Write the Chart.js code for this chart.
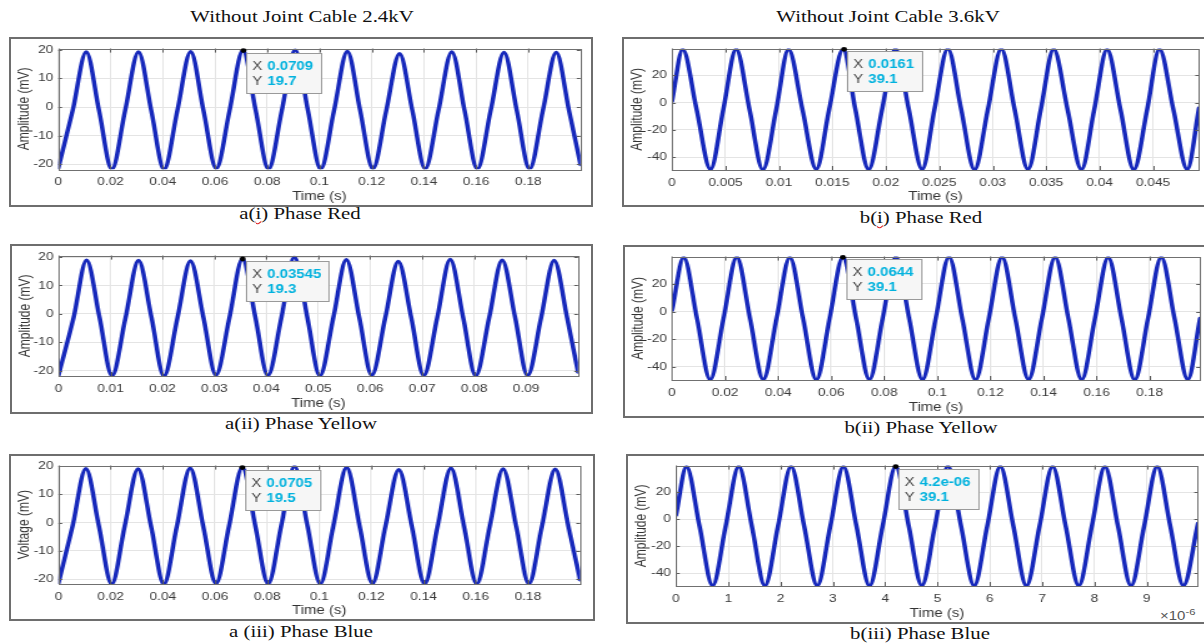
<!DOCTYPE html>
<html>
<head>
<meta charset="utf-8">
<script src="https://cdn.jsdelivr.net/npm/chart.js@4.4.1/dist/chart.umd.min.js"></script>
<style>
  body { margin: 0; width: 1204px; height: 643px; overflow: hidden; background: #fff; position: relative; }
  .frame { position: absolute; border: 2px solid #6e6e6e; box-sizing: border-box; pointer-events: none; }
  .txt { position: absolute; white-space: nowrap; font-family: "Liberation Serif", "Times New Roman", serif;
         font-size: 16px; color: #111; transform: translate(-50%, -50%) scaleX(1.3); }
  .sq { text-decoration: underline wavy #d22; text-decoration-thickness: 1px; }
  .exp { position: absolute; font-family: "Liberation Sans", Arial, sans-serif; font-size: 12px; color: #555;
         transform: scaleX(1.25); transform-origin: 0 0; }
  .exp sup { font-size: 9px; }
</style>
</head>
<body>
<div class="txt" style="left:302px;top:17px">Without Joint Cable 2.4kV</div>
<div class="txt" style="left:888px;top:17px">Without Joint Cable 3.6kV</div>
<div class="txt" style="left:300px;top:214px">a(<span class="sq">i</span>) Phase Red</div>
<div class="txt" style="left:301px;top:424px">a(ii) Phase Yellow</div>
<div class="txt" style="left:301px;top:632px">a (iii) Phase Blue</div>
<div class="txt" style="left:921px;top:218px">b(<span class="sq">i</span>) Phase Red</div>
<div class="txt" style="left:921px;top:428px">b(ii) Phase Yellow</div>
<div class="txt" style="left:920px;top:634px">b(iii) Phase Blue</div>
<div class="exp" style="left:1160px;top:607px">&times;10<sup>-6</sup></div>

<script>
// values (time in s, amplitude in mV; b(iii) time in microseconds)
const timeA1 = [0, 0.0055, 0.0107, 0.0156, 0.0205,
  0.0256, 0.0307, 0.0356, 0.0405, 0.0456, 0.0507, 0.0556, 0.0605,
  0.0656, 0.0707, 0.0756, 0.0805, 0.0856, 0.0907, 0.0956, 0.1005,
  0.1056, 0.1107, 0.1156, 0.1205, 0.1256, 0.1307, 0.1356, 0.1405,
  0.1456, 0.1507, 0.1556, 0.1605, 0.1656, 0.1707, 0.1756, 0.1805,
  0.1856, 0.1907, 0.1956, 0.2];
const ampA1 = [-21.3, -1.2, 19.2, -1.2, -21.7,
  -1.2, 19.2, -1.2, -21.8, -1.2, 19.3, -1.2, -21.4,
  -1.2, 19.7, -1.2, -21.6, -1.2, 19.9, -1.2, -21.6,
  -1.2, 19.4, -1.2, -21.5, -1.2, 18.6, -1.2, -21.5,
  -1.2, 19.2, -1.2, -21.6, -1.2, 19.0, -1.2, -21.6,
  -1.2, 19.0, -1.2, -20.0];

const timeA2 = [0, 0.0029, 0.0054, 0.0079, 0.0103,
  0.0129, 0.0154, 0.0179, 0.0203, 0.0229, 0.0254, 0.0279, 0.0303,
  0.0329, 0.0354, 0.0379, 0.0403, 0.0429, 0.0454, 0.0479, 0.0503,
  0.0529, 0.0554, 0.0579, 0.0603, 0.0629, 0.0654, 0.0679, 0.0703,
  0.0729, 0.0754, 0.0779, 0.0803, 0.0829, 0.0854, 0.0879, 0.0903,
  0.0929, 0.0954, 0.0979, 0.1];
const ampA2 = [-21.5, -1.3, 18.9, -1.3, -21.7,
  -1.3, 18.8, -1.3, -21.8, -1.3, 18.6, -1.3, -21.4,
  -1.3, 19.3, -1.3, -21.6, -1.3, 19.9, -1.3, -21.7,
  -1.3, 19.0, -1.3, -21.5, -1.3, 18.4, -1.3, -21.6,
  -1.3, 19.1, -1.3, -21.7, -1.3, 18.9, -1.3, -21.6,
  -1.3, 18.8, -1.3, -20.4];

const timeA3 = [0, 0.0054, 0.0105, 0.0155, 0.0204,
  0.0254, 0.0305, 0.0355, 0.0404, 0.0454, 0.0505, 0.0555, 0.0604,
  0.0654, 0.0705, 0.0755, 0.0804, 0.0854, 0.0905, 0.0955, 0.1004,
  0.1054, 0.1105, 0.1155, 0.1204, 0.1254, 0.1305, 0.1355, 0.1404,
  0.1454, 0.1505, 0.1555, 0.1604, 0.1654, 0.1705, 0.1755, 0.1804,
  0.1854, 0.1905, 0.1955, 0.2];
const voltA3 = [-21.4, -1.2, 19.1, -1.2, -21.7,
  -1.2, 19.0, -1.2, -21.8, -1.2, 19.3, -1.2, -21.5,
  -1.2, 19.5, -1.2, -21.6, -1.2, 19.9, -1.2, -21.6,
  -1.2, 19.5, -1.2, -21.5, -1.2, 18.7, -1.2, -21.6,
  -1.2, 19.3, -1.2, -21.6, -1.2, 19.0, -1.2, -21.6,
  -1.2, 18.9, -1.2, -20.2];

const timeB1 = [0, 0.0010, 0.0023, 0.0036, 0.0048,
  0.0060, 0.00725, 0.0085, 0.00975, 0.0109, 0.0122, 0.0135, 0.0147,
  0.0160, 0.01715, 0.0184, 0.01965, 0.0209, 0.02215, 0.0234, 0.02455,
  0.0258, 0.02705, 0.0283, 0.02955, 0.0308, 0.03205, 0.0333, 0.0345,
  0.0357, 0.0370, 0.0383, 0.0395, 0.0407, 0.04195, 0.0432, 0.04445,
  0.0456, 0.0469, 0.0482, 0.0493];
const ampB1 = [1, 39.0, -5, -49.0, -5,
  39.2, -5, -49.2, -5, 39.0, -5, -48.9, -5,
  39.1, -5, -49.1, -5, 39.3, -5, -49.0, -5,
  39.4, -5, -49.2, -5, 39.3, -5, -49.0, -5,
  39.2, -5, -49.1, -5, 39.0, -5, -49.2, -5,
  39.1, -5, -49.0, -4];

const timeB2 = [0, 0.0044, 0.0094, 0.0144, 0.0194,
  0.0244, 0.0294, 0.0344, 0.0394, 0.0444, 0.0494, 0.0544, 0.0594,
  0.0644, 0.0694, 0.0744, 0.0794, 0.0844, 0.0894, 0.0944, 0.0994,
  0.1044, 0.1094, 0.1144, 0.1194, 0.1244, 0.1294, 0.1344, 0.1394,
  0.1444, 0.1494, 0.1544, 0.1594, 0.1644, 0.1694, 0.1744, 0.1794,
  0.1844, 0.1894, 0.1944, 0.199];
const ampB2 = [1, 39.0, -5, -49.1, -5,
  39.2, -5, -49.0, -5, 39.0, -5, -49.2, -5,
  39.1, -5, -49.0, -5, 39.3, -5, -49.1, -5,
  39.3, -5, -49.2, -5, 39.2, -5, -49.0, -5,
  39.1, -5, -49.1, -5, 39.0, -5, -49.2, -5,
  39.1, -5, -49.0, -5];

const timeB3us = [0, 0.2, 0.45, 0.7, 0.95,
  1.2, 1.45, 1.7, 1.95, 2.2, 2.45, 2.7, 2.95,
  3.2, 3.45, 3.7, 3.95, 4.2, 4.45, 4.7, 4.95,
  5.2, 5.45, 5.7, 5.95, 6.2, 6.45, 6.7, 6.95,
  7.2, 7.45, 7.7, 7.95, 8.2, 8.45, 8.7, 8.95,
  9.2, 9.45, 9.7, 9.98];
const ampB3 = [3, 39.0, -5, -49.0, -5,
  39.2, -5, -49.1, -5, 39.1, -5, -49.0, -5,
  39.0, -5, -49.2, -5, 39.1, -5, -49.0, -5,
  39.3, -5, -49.1, -5, 39.2, -5, -49.2, -5,
  39.1, -5, -49.0, -5, 39.0, -5, -49.1, -5,
  39.2, -5, -49.0, -3];

const xTicks02 = [0, 0.02, 0.04, 0.06, 0.08, 0.1, 0.12, 0.14, 0.16, 0.18];
const xTicks01 = [0, 0.01, 0.02, 0.03, 0.04, 0.05, 0.06, 0.07, 0.08, 0.09];
const xTicks005 = [0, 0.005, 0.01, 0.015, 0.02, 0.025, 0.03, 0.035, 0.04, 0.045];
const xTicksUs = [0, 1, 2, 3, 4, 5, 6, 7, 8, 9];
const yTicksA = [-20, -10, 0, 10, 20];
const yTicksB = [-40, -20, 0, 20];

// data tips: position + printed text
const tipXPos = [0.0709, 0.03545, 0.0705, 0.0161, 0.0644, 4.2];
const tipYPos = [19.7, 19.3, 19.5, 39.1, 39.1, 39.1];
const tipXText = ['0.0709', '0.03545', '0.0705', '0.0161', '0.0644', '4.2e-06'];
const tipYText = ['19.7', '19.3', '19.5', '39.1', '39.1', '39.1'];

const SX = 1.25;          // the source figure is stretched horizontally
const BLUE = '#1628bb';
const GRID = '#e4e4e4';
const FONT = '"Liberation Sans", Arial, sans-serif';
Chart.defaults.font.family = FONT;

// box = outer frame, plot = axes area (page px: left, top, right, bottom)
const panels = [
  { time: timeA1, amp: ampA1, xTicks: xTicks02, yTicks: yTicksA, xMax: 0.2, yMin: -21.7, yMax: 20.4,
    yTitle: 'Amplitude (mV)', tip: 0, box: [10, 38, 592, 206], plot: [58.3, 47.7, 580.5, 169.3] },
  { time: timeA2, amp: ampA2, xTicks: xTicks01, yTicks: yTicksA, xMax: 0.1, yMin: -21.8, yMax: 20.5,
    yTitle: 'Amplitude (mV)', tip: 1, box: [11, 245, 592, 413], plot: [58.5, 255, 578, 376] },
  { time: timeA3, amp: voltA3, xTicks: xTicks02, yTicks: yTicksA, xMax: 0.2, yMin: -21.7, yMax: 20.2,
    yTitle: 'Voltage (mV)', tip: 2, box: [10, 455, 594, 620], plot: [58.5, 462.7, 580, 584] },
  { time: timeB1, amp: ampB1, xTicks: xTicks005, yTicks: yTicksB, xMax: 0.0493, yMin: -49.5, yMax: 39.6,
    yTitle: 'Amplitude (mV)', tip: 3, box: [623, 38, 1216, 206], plot: [672, 44.3, 1199, 170] },
  { time: timeB2, amp: ampB2, xTicks: xTicks02, yTicks: yTicksB, xMax: 0.199, yMin: -49.4, yMax: 39.6,
    yTitle: 'Amplitude (mV)', tip: 4, box: [624, 246, 1216, 417], plot: [672, 254, 1200, 380] },
  { time: timeB3us, amp: ampB3, xTicks: xTicksUs, yTicks: yTicksB, xMax: 9.98, yMin: -49.3, yMax: 39.8,
    yTitle: 'Amplitude (mV)', tip: 5, box: [627, 455, 1216, 623], plot: [676, 463.3, 1198, 586] },
];

// MATLAB-like axes box, inward tick marks and the data tip
const matlabAxes = {
  id: 'matlabAxes',
  afterDatasetsDraw(chart, args, opts) {
    const { ctx, chartArea: a, scales: { x, y } } = chart;
    ctx.save();
    ctx.strokeStyle = '#5c5c5c';
    ctx.lineWidth = 1;
    ctx.beginPath();
    x.ticks.forEach(t => {
      const px = Math.round(x.getPixelForValue(t.value)) + 0.5;
      ctx.moveTo(px, a.bottom); ctx.lineTo(px, a.bottom - 4);
      ctx.moveTo(px, a.top); ctx.lineTo(px, a.top + 4);
    });
    y.ticks.forEach(t => {
      const py = Math.round(y.getPixelForValue(t.value)) + 0.5;
      ctx.moveTo(a.left, py); ctx.lineTo(a.left + 3, py);
      ctx.moveTo(a.right, py); ctx.lineTo(a.right - 3, py);
    });
    ctx.stroke();
    ctx.strokeStyle = '#707070';
    ctx.strokeRect(Math.round(a.left) + 0.5, Math.round(a.top) + 0.5,
      Math.round(a.right - a.left), Math.round(a.bottom - a.top));

    const i = opts.tip;
    if (i !== undefined) {
      const px = x.getPixelForValue(tipXPos[i]);
      const py = y.getPixelForValue(tipYPos[i]);
      const normal = '12px ' + FONT, bold = 'bold 12px ' + FONT;
      ctx.font = normal;
      const wX = ctx.measureText('X').width;
      ctx.font = bold;
      const wV = Math.max(ctx.measureText(tipXText[i]).width, ctx.measureText(tipYText[i]).width);
      const bx = Math.round(px + 2.5), by = Math.round(py + 2);
      const bw = Math.round(5 + wX + 4 + wV + 6), bh = 40;
      ctx.fillStyle = '#f6f6f6';
      ctx.fillRect(bx, by, bw, bh);
      ctx.strokeStyle = '#9a9a9a';
      ctx.strokeRect(bx + 0.5, by + 0.5, bw, bh);
      ctx.textBaseline = 'middle';
      ctx.textAlign = 'left';
      ctx.font = normal;
      ctx.fillStyle = '#4a4a4a';
      ctx.fillText('X', bx + 5, by + 13.5);
      ctx.fillText('Y', bx + 5, by + 28.5);
      ctx.font = bold;
      ctx.fillStyle = '#00b2de';
      ctx.fillText(tipXText[i], bx + 5 + wX + 4, by + 13.5);
      ctx.fillText(tipYText[i], bx + 5 + wX + 4, by + 28.5);
      ctx.fillStyle = '#000';
      ctx.beginPath();
      ctx.arc(px, py, 2.4, 0, Math.PI * 2);
      ctx.fill();
    }
    ctx.restore();
  }
};

panels.forEach(p => {
  const [bl, bt, br, bb] = p.box;
  const [pl, pt, pr, pb] = p.plot;
  const cw = Math.round((br - bl) / SX);
  const sx = (br - bl) / cw;
  const ch = Math.round(bb - bt);

  const cv = document.createElement('canvas');
  cv.width = cw;
  cv.height = ch;
  cv.style.cssText = `position:absolute;left:${bl}px;top:${bt}px;width:${cw}px;height:${ch}px;` +
    `transform:scaleX(${sx});transform-origin:0 0;`;
  document.body.appendChild(cv);

  const frame = document.createElement('div');
  frame.className = 'frame';
  frame.style.cssText = `left:${bl - 1}px;top:${bt - 1}px;width:${br - bl + 2}px;height:${ch + 2}px;`;
  document.body.appendChild(frame);

  const yW = (pl - bl) / sx;
  const padR = (br - pr) / sx;
  const padT = pt - bt;
  const xH = (bt + ch) - pb;

  new Chart(cv, {
    type: 'line',
    data: {
      datasets: [{
        data: p.time.map((t, k) => ({ x: t, y: p.amp[k] })),
        borderColor: BLUE,
        borderWidth: 3.5,
        pointRadius: 0,
        cubicInterpolationMode: 'monotone',
        borderJoinStyle: 'round',
        borderCapStyle: 'round',
      }]
    },
    options: {
      responsive: false,
      animation: false,
      events: [],
      layout: { padding: { left: 0, top: padT, right: padR, bottom: 0 } },
      plugins: {
        legend: { display: false },
        tooltip: { enabled: false },
        matlabAxes: { tip: p.tip },
      },
      scales: {
        x: {
          type: 'linear',
          min: 0,
          max: p.xMax,
          afterBuildTicks: s => { s.ticks = p.xTicks.map(v => ({ value: v })); },
          afterFit: s => { s.height = xH; },
          grid: { color: GRID, drawTicks: false },
          border: { display: false },
          ticks: { padding: 6, color: '#3a3a3a', font: { size: 11 }, maxRotation: 0, autoSkip: false,
                   callback: v => String(v) },
          title: { display: true, text: 'Time (s)', color: '#333', font: { size: 12 },
                   padding: { top: 0, bottom: 2.5 } },
        },
        y: {
          type: 'linear',
          min: p.yMin,
          max: p.yMax,
          afterBuildTicks: s => { s.ticks = p.yTicks.map(v => ({ value: v })); },
          afterFit: s => { s.width = yW; },
          grid: { color: GRID, drawTicks: false },
          border: { display: false },
          ticks: { padding: 4, color: '#3a3a3a', font: { size: 11 }, autoSkip: false,
                   callback: v => String(v) },
          title: { display: true, text: p.yTitle, color: '#333', font: { size: 12 },
                   padding: { top: 4, bottom: 0 } },
        }
      }
    },
    plugins: [matlabAxes]
  });
});
</script>
</body>
</html>
